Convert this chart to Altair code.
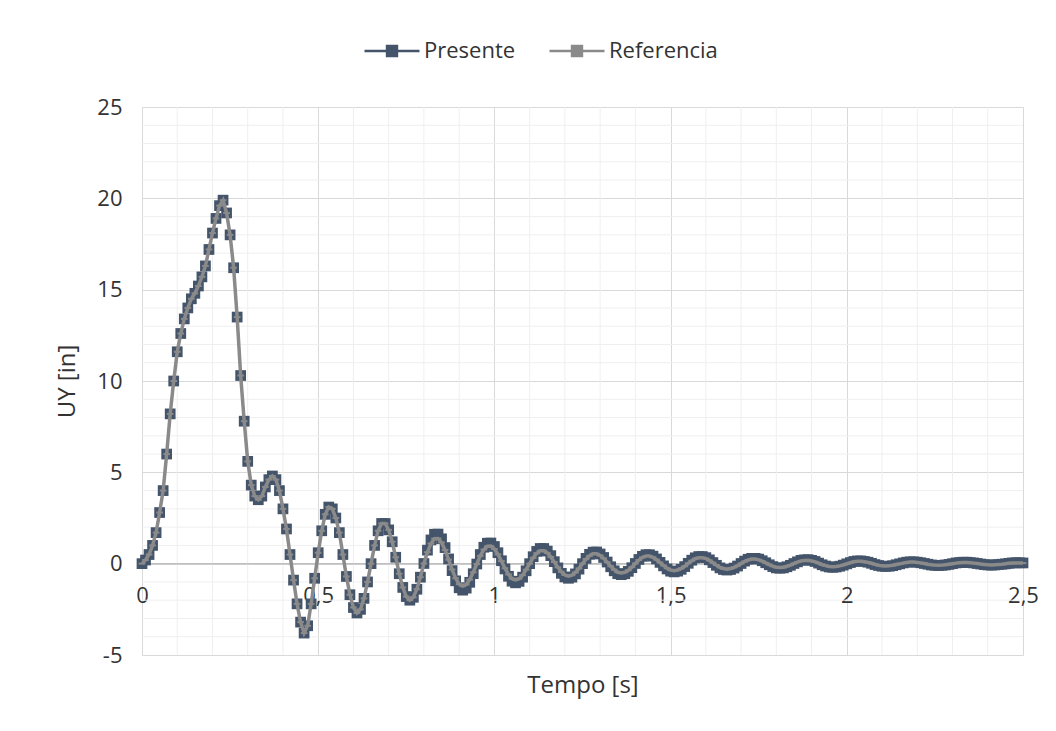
import altair as alt
import pandas as pd

FONT = "Open Sans"
TXT = "#333333"

# sample times (s), 0.01 s step
tiempo = [round(i * 0.01, 2) for i in range(251)]

presente = [
    0.0, 0.2, 0.5, 1.0, 1.7, 2.8, 4.0, 6.0, 8.2, 10.0,
    11.6, 12.6, 13.4, 14.0, 14.5, 14.8, 15.2, 15.7, 16.3, 17.2,
    18.1, 18.9, 19.6, 19.9, 19.2, 18.0, 16.2, 13.5, 10.3, 7.8,
    5.6, 4.3, 3.7, 3.5, 3.7, 4.2, 4.6, 4.8, 4.6, 4.0,
    3.0, 1.9, 0.5, -0.9, -2.2, -3.2, -3.8, -3.4, -2.2, -0.8,
    0.6, 1.8, 2.7, 3.1, 3.0, 2.5, 1.7, 0.5, -0.7, -1.7,
    -2.4, -2.7, -2.5, -1.9, -1.0, 0.0, 1.0, 1.8, 2.2, 2.2,
    1.85, 1.2, 0.35, -0.55, -1.3, -1.8, -2.0, -1.84, -1.4, -0.74,
    0.01, 0.74, 1.3, 1.61, 1.62, 1.36, 0.88, 0.26, -0.38, -0.94,
    -1.32, -1.45, -1.34, -1.02, -0.55, -0.02, 0.5, 0.9, 1.12, 1.13,
    0.94, 0.6, 0.16, -0.29, -0.69, -0.96, -1.05, -0.97, -0.74, -0.39,
    0.0, 0.38, 0.67, 0.83, 0.83, 0.69, 0.44, 0.11, -0.23, -0.53,
    -0.73, -0.8, -0.74, -0.56, -0.3, 0.0, 0.29, 0.51, 0.63, 0.64,
    0.53, 0.34, 0.09, -0.17, -0.39, -0.55, -0.6, -0.55, -0.42, -0.22,
    0.01, 0.23, 0.4, 0.49, 0.49, 0.41, 0.26, 0.07, -0.12, -0.29,
    -0.41, -0.45, -0.41, -0.31, -0.16, 0.02, 0.19, 0.32, 0.39, 0.39,
    0.33, 0.21, 0.06, -0.09, -0.23, -0.32, -0.35, -0.32, -0.24, -0.13,
    0.01, 0.14, 0.24, 0.29, 0.29, 0.25, 0.16, 0.05, -0.06, -0.16,
    -0.23, -0.25, -0.23, -0.17, -0.09, 0.01, 0.1, 0.18, 0.21, 0.22,
    0.18, 0.12, 0.03, -0.06, -0.13, -0.18, -0.2, -0.18, -0.14, -0.08,
    -0.01, 0.06, 0.12, 0.15, 0.15, 0.12, 0.08, 0.02, -0.05, -0.1,
    -0.14, -0.15, -0.14, -0.11, -0.06, -0.01, 0.04, 0.08, 0.1, 0.1,
    0.08, 0.05, 0.01, -0.03, -0.07, -0.09, -0.1, -0.09, -0.07, -0.04,
    0.0, 0.04, 0.06, 0.08, 0.08, 0.06, 0.04, 0.01, -0.02, -0.05,
    -0.07, -0.08, -0.07, -0.05, -0.03, -0.01, 0.02, 0.04, 0.05, 0.05,
    0.04,
]

# Referencia: coincides with Presente up to 0.79 s, slightly smaller afterwards
referencia_tramo = [
    0.01, 0.63, 1.1, 1.37, 1.38, 1.16, 0.75, 0.22, -0.32, -0.8,
    -1.12, -1.23, -1.14, -0.87, -0.47, -0.02, 0.43, 0.77, 0.95, 0.96,
    0.8, 0.51, 0.14, -0.25, -0.59, -0.82, -0.89, -0.82, -0.63, -0.33,
    0.0, 0.32, 0.57, 0.71, 0.71, 0.59, 0.37, 0.09, -0.2, -0.45,
    -0.62, -0.68, -0.63, -0.48, -0.26, 0.0, 0.25, 0.43, 0.54, 0.54,
    0.45, 0.29, 0.08, -0.14, -0.33, -0.47, -0.51, -0.47, -0.36, -0.19,
    0.01, 0.2, 0.34, 0.42, 0.42, 0.35, 0.22, 0.06, -0.1, -0.25,
    -0.35, -0.38, -0.35, -0.26, -0.14, 0.02, 0.16, 0.27, 0.33, 0.33,
    0.28, 0.18, 0.05, -0.08, -0.2, -0.27, -0.3, -0.27, -0.2, -0.11,
    0.01, 0.12, 0.2, 0.25, 0.25, 0.21, 0.14, 0.04, -0.05, -0.14,
    -0.2, -0.21, -0.2, -0.14, -0.08, 0.01, 0.09, 0.15, 0.18, 0.19,
    0.15, 0.1, 0.03, -0.05, -0.11, -0.15, -0.17, -0.15, -0.12, -0.07,
    -0.01, 0.05, 0.1, 0.13, 0.13, 0.1, 0.07, 0.02, -0.04, -0.09,
    -0.12, -0.13, -0.12, -0.09, -0.05, -0.01, 0.03, 0.07, 0.09, 0.09,
    0.07, 0.04, 0.01, -0.03, -0.06, -0.08, -0.09, -0.08, -0.06, -0.03,
    0.0, 0.03, 0.05, 0.07, 0.07, 0.05, 0.03, 0.01, -0.02, -0.04,
    -0.06, -0.07, -0.06, -0.04, -0.03, -0.01, 0.02, 0.03, 0.04, 0.04,
    0.03,
]
referencia = presente[:80] + referencia_tramo

series = ["Presente", "Referencia"]
colores = ["#44546A", "#8A8A8A"]

x_ticks = [0, 0.5, 1, 1.5, 2, 2.5]
y_ticks = [-5, 0, 5, 10, 15, 20, 25]
x_minor = [0.1, 0.2, 0.3, 0.4, 0.6, 0.7, 0.8, 0.9, 1.1, 1.2, 1.3, 1.4,
           1.6, 1.7, 1.8, 1.9, 2.1, 2.2, 2.3, 2.4]
y_minor = [-4, -3, -2, -1, 1, 2, 3, 4, 6, 7, 8, 9, 11, 12, 13, 14,
           16, 17, 18, 19, 21, 22, 23, 24]

df = pd.DataFrame({
    "t": tiempo + tiempo,
    "uy": presente + referencia,
    "serie": ["Presente"] * len(tiempo) + ["Referencia"] * len(tiempo),
})
df_xm = pd.DataFrame({"t": x_minor})
df_ym = pd.DataFrame({"uy": y_minor})
df_zero = pd.DataFrame({"uy": [0]})

label_expr = "replace(toString(datum.value), '.', ',')"

x_axis = alt.Axis(
    values=x_ticks, labelExpr=label_expr, domain=False, ticks=False,
    grid=True, gridColor="#D9D9D9", gridWidth=1, labelFlush=False,
    labelPadding=-70, labelFont=FONT, labelFontSize=22, labelColor=TXT,
    title="Tempo [s]", titleFont=FONT, titleFontSize=24, titleColor=TXT,
    titleFontWeight="normal", titleY=18, titleBaseline="top",
)
y_axis = alt.Axis(
    values=y_ticks, labelExpr=label_expr, domain=False, ticks=False,
    grid=True, gridColor="#D9D9D9", gridWidth=1,
    labelPadding=20, labelFont=FONT, labelFontSize=22, labelColor=TXT,
    title="UY [in]", titleFont=FONT, titleFontSize=24, titleColor=TXT,
    titleFontWeight="normal", titleX=-63,
)

X = alt.X("t:Q", scale=alt.Scale(domain=[0, 2.5], nice=False, zero=False), axis=x_axis)
Y = alt.Y("uy:Q", scale=alt.Scale(domain=[-5, 25], nice=False), axis=y_axis)

LEG_PATH = "M-1,0H1M-0.18,-0.18H0.18V0.18H-0.18Z"
legend = alt.Legend(
    title=None, orient="none", legendX=221, legendY=-85, direction="horizontal",
    symbolType=LEG_PATH, symbolSize=3025, symbolStrokeWidth=2.5,
    labelFont=FONT, labelFontSize=22, labelColor=TXT, labelOffset=3,
    columnPadding=28, padding=0,
)
C = alt.Color("serie:N", scale=alt.Scale(domain=series, range=colores), legend=legend)

minor_x = alt.Chart(df_xm).mark_rule(color="#EFEFEF", strokeWidth=1).encode(x=X)
minor_y = alt.Chart(df_ym).mark_rule(color="#EFEFEF", strokeWidth=1).encode(y=Y)
zero = alt.Chart(df_zero).mark_rule(color="#BFBFBF", strokeWidth=1.5).encode(y=Y)

base = alt.Chart(df)
pres = base.transform_filter(alt.datum.serie == "Presente")
ref = base.transform_filter(alt.datum.serie == "Referencia")

pres_line = pres.mark_line(strokeWidth=2).encode(x=X, y=Y, color=C)
pres_pts = pres.mark_point(shape="square", filled=True, size=115, opacity=1).encode(x=X, y=Y, color=C)
ref_line = ref.mark_line(strokeWidth=3.5).encode(x=X, y=Y, color=C)
ref_pts = ref.mark_point(shape="M-1,-0.3H1V0.3H-1Z", filled=True, size=45, opacity=1).encode(x=X, y=Y, color=C)

chart = alt.layer(minor_x, minor_y, zero, pres_line, pres_pts, ref_line, ref_pts).properties(
    width=881, height=548,
    autosize=alt.AutoSizeParams(type="none"),
    padding={"left": 142, "top": 107, "right": 33, "bottom": 76},
    background="white",
).configure_view(stroke=None)

chart.save("out.html", embed_options={"renderer": "svg", "actions": False})
